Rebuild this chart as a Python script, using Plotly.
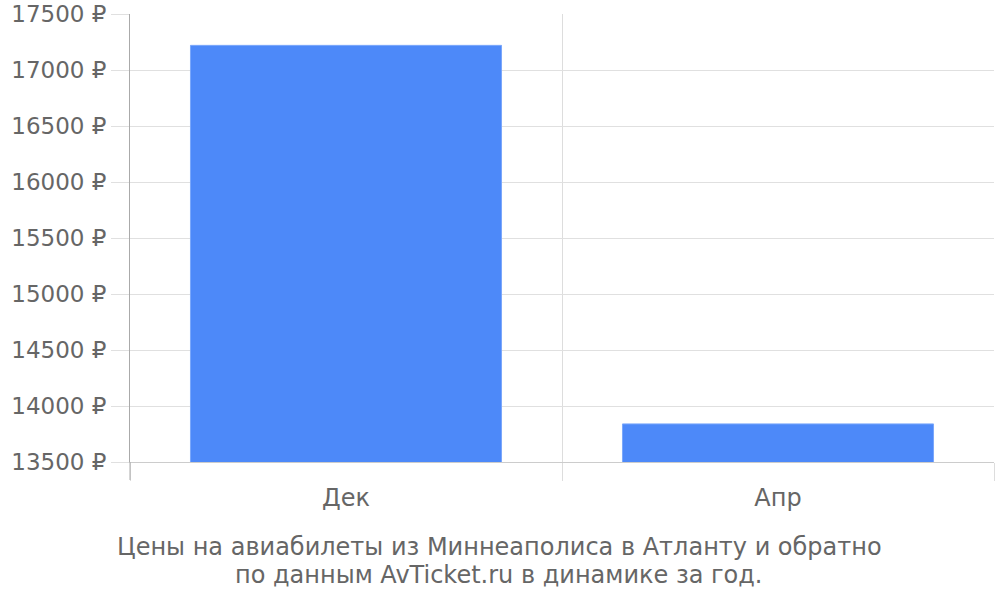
import plotly.graph_objects as go

categories = ["Дек", "Апр"]
prices = [17220, 13840]
y_ticks = [13500, 14000, 14500, 15000, 15500, 16000, 16500, 17000, 17500]
y_tick_labels = [f"{v} ₽" for v in y_ticks]
title_lines = ["Цены на авиабилеты из Миннеаполиса в Атланту и обратно",
               "по данным AvTicket.ru в динамике за год."]

fig = go.Figure()
fig.add_trace(go.Bar(
    x=categories, y=prices, width=0.72,
    marker=dict(color="#4d89f9", line=dict(color="#7aa7fb", width=1)),
))

fig.update_layout(
    width=1000, height=600,
    margin=dict(l=130, r=6, t=14, b=138, autoexpand=False),
    paper_bgcolor="white", plot_bgcolor="white",
    font=dict(family="DejaVu Sans", color="#666666", size=24),
    showlegend=False,
)
fig.update_xaxes(
    type="category", tickson="boundaries", ticks="outside", ticklen=18,
    tickcolor="#dddddd", tickwidth=1,
    showgrid=True, gridcolor="#dddddd", gridwidth=1,
    showline=True, linecolor="#cccccc", linewidth=1,
    tickfont=dict(size=24, color="#666666"),
    ticklabelstandoff=14, automargin=False,
)
fig.update_yaxes(
    range=[13500, 17500], tickvals=y_ticks, ticktext=y_tick_labels,
    showgrid=True, gridcolor="#e0e0e0", gridwidth=1,
    showline=True, linecolor="#aaaaaa", linewidth=1,
    ticks="outside", ticklen=18, tickcolor="#e0e0e0",
    tickfont=dict(size=23, color="#666666"),
    zeroline=False, automargin=False,
)
fig.add_shape(type="line", xref="paper", yref="paper",
              x0=0, x1=0, y0=0, y1=-18/448,
              line=dict(color="#aaaaaa", width=1))
for i, line in enumerate(title_lines):
    fig.add_annotation(
        text=line, xref="paper", yref="paper",
        x=(499-130)/864, y=-(547 + 28*i - 462)/448,
        xanchor="center", yanchor="middle",
        showarrow=False, font=dict(size=24, color="#666666"),
    )

fig.write_html("out.html", config={"displayModeBar": False},
               post_script="document.body.style.margin='0';")
